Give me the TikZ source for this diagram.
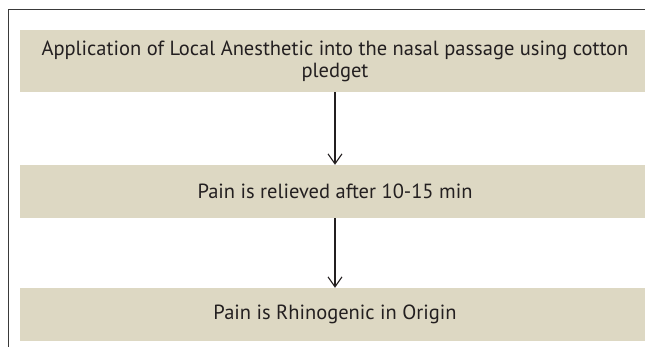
\documentclass[tikz,border=0pt]{standalone}
\usepackage{fontspec}
\setmainfont{PT Sans}
\usetikzlibrary{arrows.meta, positioning}
\definecolor{rhBox}{HTML}{DDD8C3}
\definecolor{rhInk}{HTML}{231F20}
\definecolor{rhFrame}{HTML}{3A3A3A}
\tikzset{
  stepbox/.style={
    fill=rhBox, draw=none, inner sep=0pt, align=center,
    minimum width=630pt, text=rhInk,
    font=\fontsize{20.5}{22}\selectfont
  },
  flow/.style={-{Straight Barb[length=10pt, width=14pt, line width=1.1pt]}, line width=1.3pt, draw=rhInk},
  frame/.style={line width=1pt, draw=rhFrame},
}
\begin{document}
\begin{tikzpicture}[x=1pt, y=-1pt]
  \useasboundingbox (0,0) rectangle (645,347);
  \coordinate (ftl) at (8,10);
  \coordinate (ftr) at (645,10);
  \coordinate (fbl) at (8,347);
  \draw[frame] (ftr) -- (ftl) -- (fbl);

  \node[stepbox, minimum height=62pt] (apply) at (335,61) {Application of Local Anesthetic into the nasal passage using cotton\\pledget};
  \node[stepbox, minimum height=53pt] (relief) at (335,191.5) {Pain is relieved after 10-15 min};
  \node[stepbox, minimum height=53pt] (origin) at (335,314.5) {Pain is Rhinogenic in Origin};

  \draw[flow] (apply) -- (relief);
  \draw[flow] (relief) -- (origin);
\end{tikzpicture}
\end{document}
